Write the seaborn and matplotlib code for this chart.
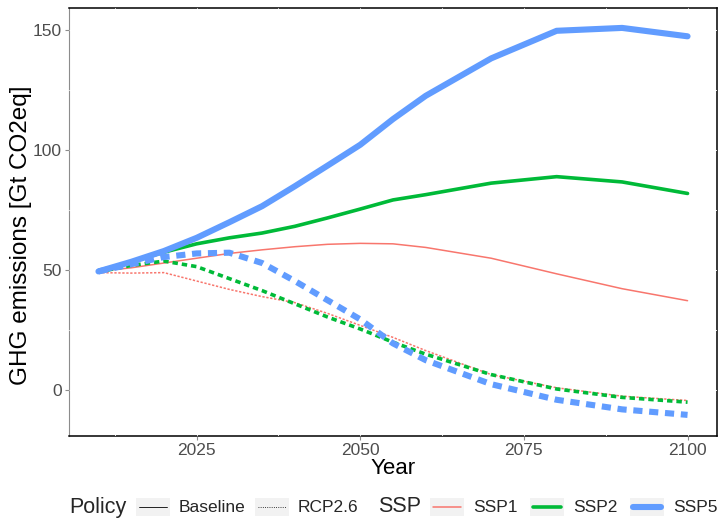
import numpy as np
import pandas as pd
import seaborn as sns
import matplotlib.pyplot as plt
from matplotlib.lines import Line2D
from matplotlib.patches import Rectangle
from matplotlib.ticker import MultipleLocator

sns.set_theme(style="white")
plt.rcParams["font.family"] = ["Liberation Sans", "DejaVu Sans"]

# emissions, Gt CO2eq
years = [2010, 2015, 2020, 2025, 2030, 2035, 2040, 2045, 2050, 2055, 2060, 2070, 2080, 2090, 2100]

ssp1_base  = [49.6, 51.0, 53.0, 55.0, 57.0, 58.5, 59.8, 60.8, 61.2, 61.0, 59.5, 55.0, 48.5, 42.3, 37.3]
ssp2_base  = [49.5, 53.5, 57.5, 61.0, 63.5, 65.5, 68.3, 71.8, 75.5, 79.3, 81.5, 86.3, 89.0, 86.8, 82.0]
ssp5_base  = [49.5, 53.5, 58.0, 63.5, 70.0, 76.7, 85.0, 93.6, 102.3, 113.0, 122.7, 138.3, 149.8, 151.0, 147.5]
ssp1_rcp26 = [49.0, 48.8, 49.0, 45.5, 42.0, 39.0, 36.5, 32.0, 27.0, 22.0, 16.5, 6.5, 1.0, -2.5, -4.3]
ssp2_rcp26 = [49.3, 52.0, 53.8, 51.5, 46.5, 41.5, 36.0, 30.5, 25.5, 20.0, 15.0, 6.5, 0.5, -3.0, -5.0]
ssp5_rcp26 = [49.5, 52.5, 55.5, 57.0, 57.3, 53.0, 45.5, 37.5, 29.5, 19.5, 12.5, 2.5, -4.0, -8.0, -10.3]

ssps     = ["SSP1", "SSP2", "SSP5"]
policies = ["Baseline", "RCP2.6"]
series   = {("SSP1", "Baseline"): ssp1_base, ("SSP2", "Baseline"): ssp2_base, ("SSP5", "Baseline"): ssp5_base,
            ("SSP1", "RCP2.6"): ssp1_rcp26, ("SSP2", "RCP2.6"): ssp2_rcp26, ("SSP5", "RCP2.6"): ssp5_rcp26}

rows = []
for (ssp, pol), vals in series.items():
    for yr, v in zip(years, vals):
        rows.append({"Year": yr, "GHG": v, "SSP": ssp, "Policy": pol})
df = pd.DataFrame(rows)

colors = {"SSP1": "#F8766D", "SSP2": "#00BA38", "SSP5": "#619CFF"}
widths = {"SSP1": 1.1, "SSP2": 2.6, "SSP5": 4.4}

W, H = 718, 518
fig = plt.figure(figsize=(W / 100, H / 100), dpi=100)
ax = fig.add_axes([69 / W, 1 - 436 / H, (717 - 69) / W, (436 - 8) / H])

sns.lineplot(data=df, x="Year", y="GHG", hue="SSP", size="SSP", style="Policy",
             palette=colors, sizes=widths, hue_order=ssps, size_order=ssps, style_order=policies,
             dashes={"Baseline": "", "RCP2.6": (1.5, 1.1)}, estimator=None, legend=False, ax=ax)

ax.set_xlim(2005.5, 2104.5)
ax.set_ylim(-19.1, 159.3)
ax.set_xticks([2025, 2050, 2075, 2100])
ax.set_yticks([0, 50, 100, 150])
ax.xaxis.set_minor_locator(MultipleLocator(12.5))
ax.yaxis.set_minor_locator(MultipleLocator(25))
ax.tick_params(which="minor", length=0)
ax.tick_params(which="major", length=3, width=0.8, color="#8c8c8c", labelcolor="#4d4d4d", pad=2,
               labelsize=12.5, bottom=True, left=True, direction="out")

# white panel grid sits over the border, as in the reference
ax.grid(True, which="both", color="white", lw=0.6)
for s in ["top", "right", "bottom"]:
    ax.spines[s].set_color("black")
    ax.spines[s].set_linewidth(1.1)
ax.spines["left"].set_color("#8c8c8c")
ax.spines["left"].set_linewidth(0.8)
for s in ax.spines.values():
    s.set_zorder(0.3)

ax.set_xlabel("Year", fontsize=16, labelpad=0, color="black")
ax.set_ylabel("GHG emissions [Gt CO2eq]", fontsize=17.5, color="black")
ax.yaxis.set_label_coords(-0.057, 0.47)


def fx(px):
    return px / W


def fy(py):
    return 1 - py / H


# legend along the bottom, ggplot style
ly = 507
fig.text(fx(69), fy(ly), "Policy", fontsize=15.5, va="center", ha="left")
fig.text(fx(378), fy(ly), "SSP", fontsize=15.5, va="center", ha="left")

keys = [(136, "Baseline", "black", 0.6, "-"),
        (255, "RCP2.6", "black", 0.6, ":"),
        (430, "SSP1", colors["SSP1"], widths["SSP1"], "-"),
        (530, "SSP2", colors["SSP2"], widths["SSP2"], "-"),
        (630, "SSP5", colors["SSP5"], widths["SSP5"], "-")]
for x0, lab, col, lw, ls in keys:
    fig.add_artist(Rectangle((fx(x0), fy(ly + 9)), 34 / W, 18 / H, transform=fig.transFigure,
                             facecolor="#f2f2f2", edgecolor="none"))
    fig.add_artist(Line2D([fx(x0 + 3), fx(x0 + 31)], [fy(ly), fy(ly)], transform=fig.transFigure,
                          color=col, lw=lw, ls=ls))
    fig.text(fx(x0 + 43), fy(ly), lab, fontsize=12.5, va="center", ha="left")

fig.savefig("out.png", dpi=100)
